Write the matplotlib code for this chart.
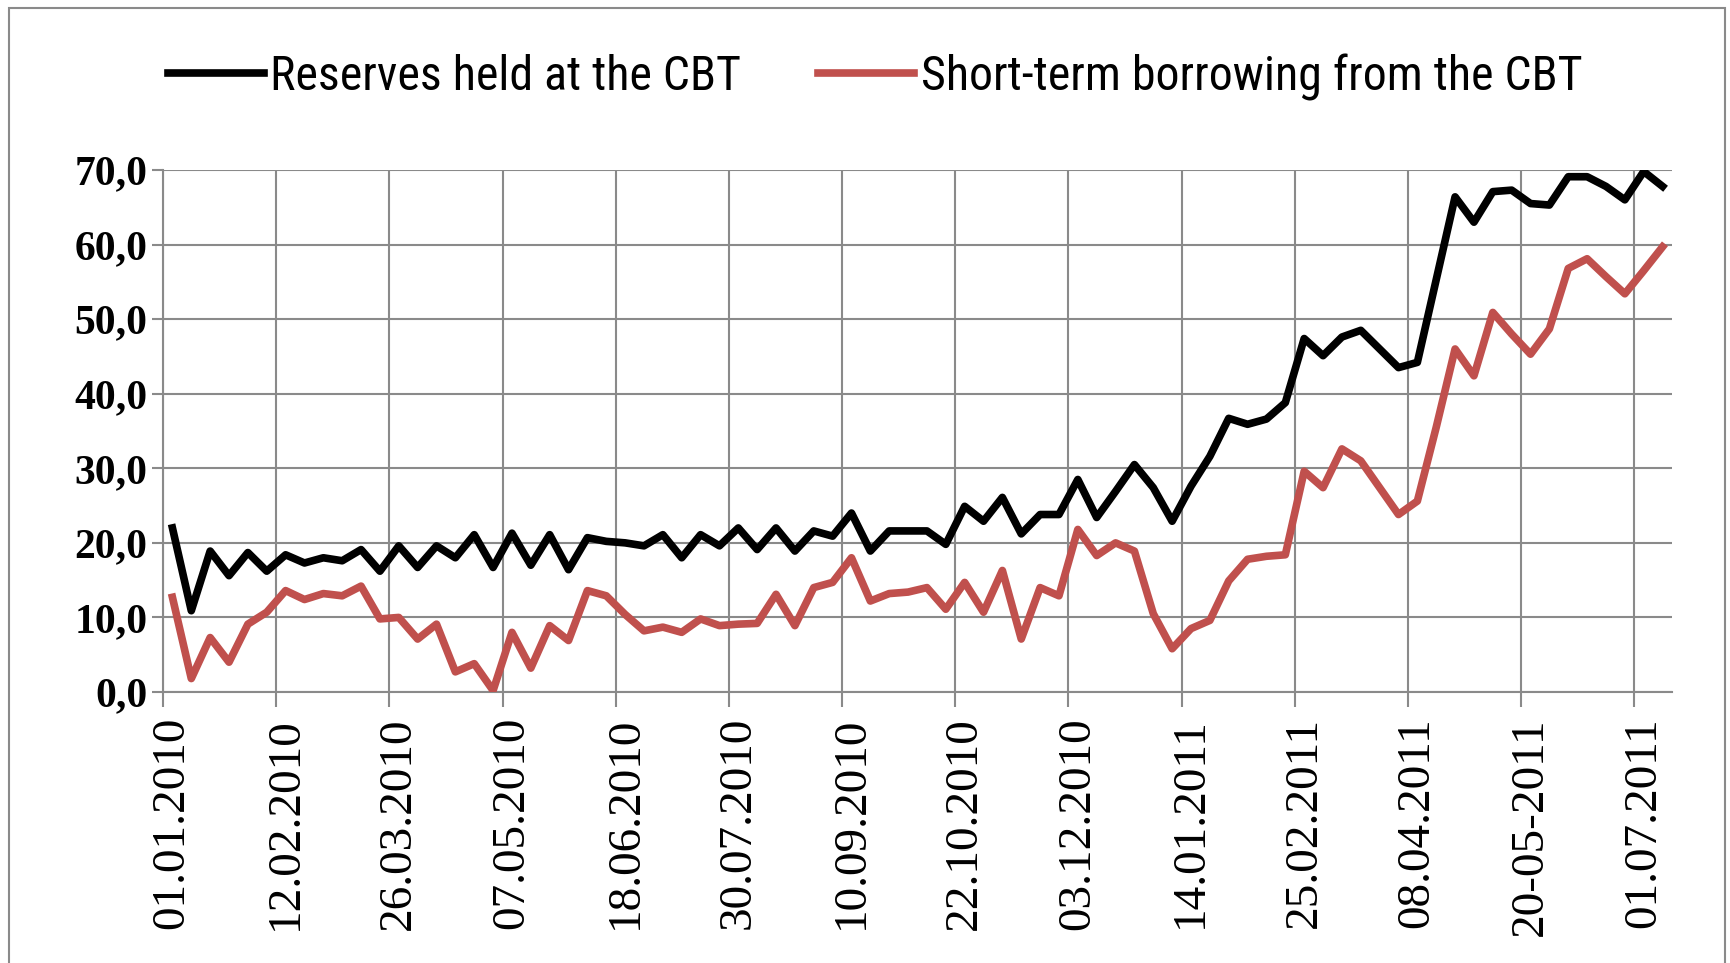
import numpy as np
import matplotlib
matplotlib.use('Agg')
import matplotlib.pyplot as plt
from matplotlib import font_manager
from matplotlib.patches import Rectangle

# Weekly data, 01.01.2010 - 08.07.2011 (bn TL)
reserves = [22.0, 10.9, 18.9, 15.6, 18.7, 16.2, 18.4, 17.3, 18.0, 17.6,
            19.1, 16.2, 19.6, 16.7, 19.6, 18.0, 21.1, 16.7, 21.3, 17.0,
            21.1, 16.4, 20.7, 20.2, 20.0, 19.6, 21.1, 18.0, 21.1, 19.6,
            22.0, 19.1, 22.0, 18.9, 21.6, 20.9, 24.0, 18.9, 21.6, 21.6,
            21.6, 19.8, 24.9, 22.9, 26.1, 21.2, 23.8, 23.8, 28.5, 23.4,
            26.9, 30.5, 27.4, 22.9, 27.6, 31.6, 36.7, 35.9, 36.6, 38.8,
            47.4, 45.1, 47.6, 48.5, 46.0, 43.5, 44.2, 55.3, 66.4, 63.0,
            67.1, 67.3, 65.5, 65.3, 69.1, 69.1, 67.8, 66.0, 69.8, 67.8]
borrowing = [12.7, 1.8, 7.3, 4.0, 9.1, 10.7, 13.6, 12.4, 13.2, 12.9,
             14.2, 9.8, 10.0, 7.1, 9.1, 2.7, 3.8, 0.2, 8.0, 3.2,
             8.9, 6.9, 13.6, 12.9, 10.4, 8.2, 8.7, 8.0, 9.8, 8.9,
             9.1, 9.2, 13.1, 8.9, 14.0, 14.7, 18.0, 12.2, 13.2, 13.4,
             14.0, 11.1, 14.7, 10.7, 16.3, 7.1, 14.0, 12.9, 21.8, 18.3,
             20.0, 18.9, 10.5, 5.8, 8.5, 9.6, 14.9, 17.8, 18.2, 18.4,
             29.6, 27.4, 32.6, 31.0, 27.4, 23.8, 25.6, 35.5, 46.0, 42.4,
             50.9, 48.0, 45.3, 48.7, 56.8, 58.1, 55.7, 53.4, 56.5, 59.7]
tick_labels = ['01.01.2010', '12.02.2010', '26.03.2010', '07.05.2010',
               '18.06.2010', '30.07.2010', '10.09.2010', '22.10.2010',
               '03.12.2010', '14.01.2011', '25.02.2011', '08.04.2011',
               '20-05-2011', '01.07.2011']
y_ticks = [0, 10, 20, 30, 40, 50, 60, 70]

grid_col = '#8a8a8a'
red = '#C0504D'

# pick the first installed font from a wish list
installed = set(f.name for f in font_manager.fontManager.ttflist)
def pick(names):
    for n in names:
        if n in installed:
            return n
    return 'DejaVu Sans'

serif = pick(['Liberation Serif', 'Times New Roman', 'Nimbus Roman', 'DejaVu Serif'])
narrow = pick(['Liberation Sans Narrow', 'Arial Narrow', 'Roboto Condensed', 'Lato'])
if serif == 'DejaVu Serif':
    xsize, ysize = 27, 22
else:
    xsize, ysize = 34, 30
lsize = 34.5 if narrow == 'Roboto Condensed' else 30

fig = plt.figure(figsize=(17.31, 9.63), dpi=100)
ax = fig.add_axes([163/1731, 1 - 692/963, (1672 - 163)/1731, (692 - 170)/963])

x = np.arange(len(reserves))
ax.plot(x, reserves, color='black', lw=5.5, label='Reserves held at the CBT', zorder=3)
ax.plot(x, borrowing, color=red, lw=5.5, label='Short-term borrowing from the CBT', zorder=3)

ax.set_xlim(-0.5, len(reserves) - 0.5)
ax.set_ylim(0, 70)

# gridlines / tick marks sit between categories, labels on the categories
label_pos = np.arange(0, len(reserves), 6)
ax.set_xticks(label_pos - 0.5)
ax.set_xticklabels([])
ax.set_xticks(label_pos, minor=True)
ax.set_xticklabels(tick_labels, minor=True, rotation=90,
                   family=[serif, 'DejaVu Serif'], fontsize=xsize)
ax.tick_params(axis='x', which='major', length=11, width=1.5, color=grid_col)
ax.tick_params(axis='x', which='minor', length=0, pad=18)

ax.set_yticks(y_ticks)
ax.set_yticklabels([f'{v:.1f}'.replace('.', ',') for v in y_ticks],
                   family=[serif, 'DejaVu Serif'], fontweight='bold', fontsize=ysize)
ax.tick_params(axis='y', length=8, width=1.5, color=grid_col, pad=3)

ax.grid(True, which='major', color=grid_col, lw=1.5)
ax.set_axisbelow(True)
for s in ['top', 'right']:
    ax.spines[s].set_visible(False)
for s in ['left', 'bottom']:
    ax.spines[s].set_color(grid_col)
    ax.spines[s].set_linewidth(1.5)

fig.legend(loc='center', bbox_to_anchor=(0.5055, 0.92), ncol=2, frameon=False,
           prop={'family': [narrow, 'DejaVu Sans'], 'size': lsize},
           handlelength=2.0, handletextpad=0.14, columnspacing=1.6)

# outer chart border
fig.add_artist(Rectangle((9/1731, -0.05), (1725 - 9)/1731, 1.05 - 8/963,
                         transform=fig.transFigure, fill=False,
                         edgecolor=grid_col, lw=1.5))

fig.savefig('out.png', dpi=100)
